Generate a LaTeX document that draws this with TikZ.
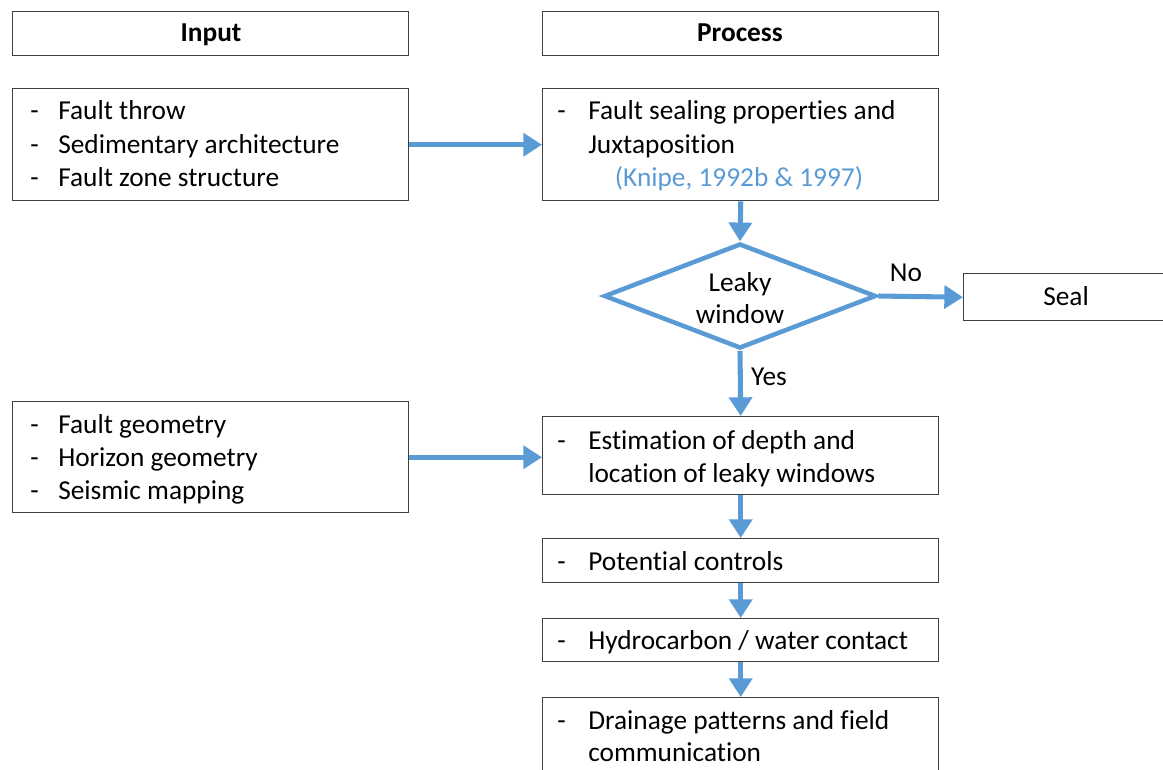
\documentclass[tikz,border=0pt]{standalone}
\usepackage{fontspec}
\setmainfont[Ligatures=NoCommon]{Carlito}
\usetikzlibrary{arrows.meta,shapes.geometric}
\definecolor{arrblue}{RGB}{91,155,213}
\definecolor{boxgray}{RGB}{64,64,64}
\begin{document}
\begin{tikzpicture}[x=0.75pt,y=-0.75pt,
  box/.style={draw=boxgray, line width=1.1pt, inner sep=0pt, anchor=north west,
    font=\fontsize{20.5}{24}\selectfont},
  flow/.style={draw=arrblue, line width=3.8pt, -{Triangle[length=14pt,width=17pt]}},
  txt/.style={anchor=base west, inner sep=0pt, font=\fontsize{20.5}{24}\selectfont},
  ctxt/.style={anchor=base, inner sep=0pt, font=\fontsize{20.5}{24}\selectfont}]
\useasboundingbox (0,0) rectangle (1163,769);
\clip (0,0) rectangle (1163,769);

% headers
\node[box, minimum width=297pt, minimum height=33pt] (inhead) at (12,11) {};
\node[box, minimum width=297pt, minimum height=33pt] (prochead) at (542,11) {};
\node[ctxt, font=\fontsize{20.5}{24}\selectfont\bfseries] (inheadt) at (211,41) {Input};
\node[ctxt, font=\fontsize{20.5}{24}\selectfont\bfseries] (procheadt) at (740,41) {Process};

% boxes
\node[box, minimum width=297pt, minimum height=84pt] (in1) at (12,88) {};
\node[box, minimum width=297pt, minimum height=84pt] (p1) at (542,88) {};
\node[draw=arrblue, line width=3.4pt, diamond, inner sep=0pt, minimum width=204pt, minimum height=78.75pt] (dia) at (740,296) {};
\node[box, minimum width=154.5pt, minimum height=35.25pt] (seal) at (963,273) {};
\node[ctxt] (sealt) at (1066,305) {Seal};
\node[box, minimum width=297pt, minimum height=83.25pt] (in2) at (12,401) {};
\node[box, minimum width=297pt, minimum height=58.5pt] (p2) at (542,416) {};
\node[box, minimum width=297pt, minimum height=33pt] (p3) at (542,538) {};
\node[box, minimum width=297pt, minimum height=32.25pt] (p4) at (542,618) {};
\node[box, minimum width=297pt, minimum height=75pt] (p5) at (542,697) {};

% texts: input box 1
\node[txt] (in1d1) at (30,119) {-};
\node[txt] (in1t1) at (58,119) {Fault throw};
\node[txt] (in1d2) at (30,153) {-};
\node[txt] (in1t2) at (58,153) {Sedimentary architecture};
\node[txt] (in1d3) at (30,186) {-};
\node[txt] (in1t3) at (58,186) {Fault zone structure};

% process box 1
\node[txt] (p1d1) at (557,119) {-};
\node[txt] (p1t1) at (588,119) {Fault sealing properties and};
\node[txt] (p1t2) at (588,153) {Juxtaposition};
\node[ctxt, text=arrblue] (p1c) at (739,186) {(Knipe, 1992b \& 1997)};

% diamond
\node[ctxt] (diat1) at (740,291) {Leaky};
\node[ctxt] (diat2) at (740,323) {window};
\node[ctxt] (nolab) at (906,281) {No};
\node[ctxt] (yeslab) at (769,385) {Yes};

% input box 2
\node[txt] (in2d1) at (30,433) {-};
\node[txt] (in2t1) at (58,433) {Fault geometry};
\node[txt] (in2d2) at (30,466) {-};
\node[txt] (in2t2) at (58,466) {Horizon geometry};
\node[txt] (in2d3) at (30,499) {-};
\node[txt] (in2t3) at (58,499) {Seismic mapping};

% process box 2
\node[txt] (p2d1) at (557,449) {-};
\node[txt] (p2t1) at (588,449) {Estimation of depth and};
\node[txt] (p2t2) at (588,482) {location of leaky windows};

% box 3,4,5
\node[txt] (p3d) at (557,570) {-};
\node[txt] (p3t) at (588,570) {Potential controls};
\node[txt] (p4d) at (557,649) {-};
\node[txt] (p4t) at (588,649) {Hydrocarbon / water contact};
\node[txt] (p5d) at (557,729) {-};
\node[txt] (p5t1) at (588,729) {Drainage patterns and field};
\node[txt] (p5t2) at (588,761) {communication};

% connectors
\draw[flow] (in1.east) -- (p1.west);
\draw[flow] (p1.south) -- (dia.north);
\draw[flow] (dia.east) -- (seal.west);
\draw[flow] (dia.south) -- (p2.north);
\draw[flow] (in2.east) -- (in2.east -| p2.west);
\draw[flow] (p2.south) -- (p3.north);
\draw[flow] (p3.south) -- (p4.north);
\draw[flow] (p4.south) -- (p5.north);
\end{tikzpicture}
\end{document}
